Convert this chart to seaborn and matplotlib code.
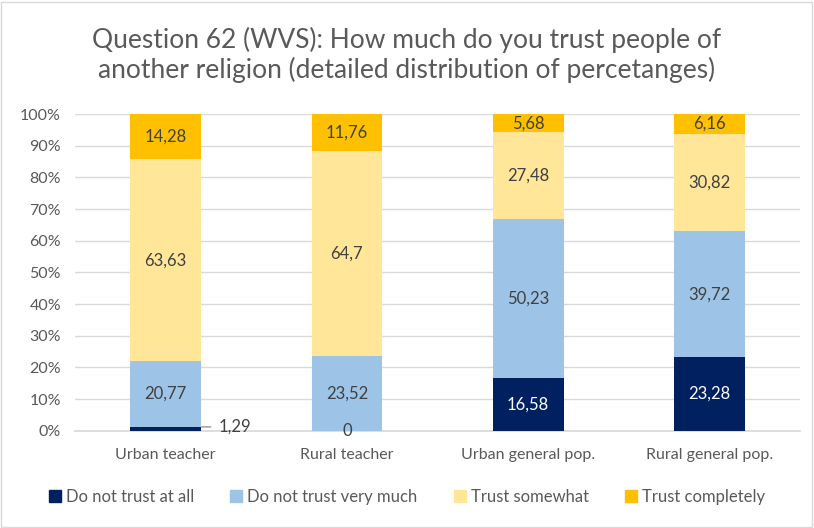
import numpy as np
import pandas as pd
import matplotlib
matplotlib.use('Agg')
import matplotlib.pyplot as plt
import seaborn as sns
from matplotlib.ticker import PercentFormatter

# Data
groups = ['Urban teacher', 'Rural teacher', 'Urban general pop.', 'Rural general pop.']
series_names = ['Do not trust at all', 'Do not trust very much', 'Trust somewhat', 'Trust completely']
not_at_all = [1.29, 0, 16.58, 23.28]
not_very_much = [20.77, 23.52, 50.23, 39.72]
somewhat = [63.63, 64.7, 27.48, 30.82]
completely = [14.28, 11.76, 5.68, 6.16]
colors = ['#002060', '#9DC3E6', '#FFE699', '#FFC000']
label_colors = ['white', '#404040', '#404040', '#404040']

title = 'Question 62 (WVS): How much do you trust people of\nanother religion (detailed distribution of percetanges)'

sns.set_theme(style='white')
plt.rcParams['font.family'] = ['Lato', 'DejaVu Sans']

fig = plt.figure(figsize=(8.14, 5.28), dpi=100)
ax = fig.add_axes([0.092, 0.184, 0.891, 0.600])

df = pd.DataFrame({'group': groups})
bottom = np.zeros(len(groups))
for name, vals, col, lcol in zip(series_names,
                                 [not_at_all, not_very_much, somewhat, completely],
                                 colors, label_colors):
    df[name] = vals
    sns.barplot(data=df, x='group', y=name, color=col, width=0.39,
                bottom=bottom.copy(), ax=ax, label=name, saturation=1,
                linewidth=0, zorder=3)
    for i, v in enumerate(vals):
        s = ('%g' % v).replace('.', ',')
        if 0 < v < 3:
            # small segment: label outside with a short leader line
            ax.annotate(s, xy=(i + 0.2, bottom[i] + v / 2 + 0.6),
                        xytext=(i + 0.29, bottom[i] + v / 2 + 0.6),
                        ha='left', va='center', fontsize=12, color='#404040',
                        arrowprops=dict(arrowstyle='-', color='#A6A6A6', lw=1.2,
                                        shrinkA=3, shrinkB=0))
        else:
            ax.text(i, bottom[i] + v / 2, s, ha='center', va='center',
                    fontsize=12, color=lcol if v > 0 else '#404040', zorder=5)
    bottom += np.array(vals)

ax.set_ylim(0, 100)
ax.set_xlim(-0.5, 3.5)
ax.yaxis.set_major_locator(plt.MultipleLocator(10))
ax.yaxis.set_major_formatter(PercentFormatter(decimals=0))
ax.grid(axis='y', color='#D9D9D9', lw=1, zorder=0)
ax.set_axisbelow(True)
for s in ['top', 'right', 'left']:
    ax.spines[s].set_visible(False)
ax.spines['bottom'].set_color('#D9D9D9')
ax.tick_params(axis='both', length=0, labelsize=11.5, labelcolor='#595959')
ax.tick_params(axis='x', pad=12)
ax.tick_params(axis='y', pad=10)
ax.set_xlabel('')
ax.set_ylabel('')

fig.suptitle(title, y=0.95, fontsize=19, color='#595959', linespacing=1.2)

handles = [plt.Rectangle((0, 0), 1, 1, color=c) for c in colors]
fig.legend(handles, series_names, loc='lower center', bbox_to_anchor=(0.5, 0.015),
           ncol=4, frameon=False, fontsize=12, labelcolor='#595959',
           handlelength=0.7, handleheight=0.7, handletextpad=0.3, columnspacing=2.2)
if ax.get_legend() is not None:
    ax.get_legend().remove()

fig.patches.append(plt.Rectangle((0.001, 0.002), 0.997, 0.995, transform=fig.transFigure,
                                 fill=False, edgecolor='#D9D9D9', lw=1))

fig.savefig('out.png', dpi=100)
